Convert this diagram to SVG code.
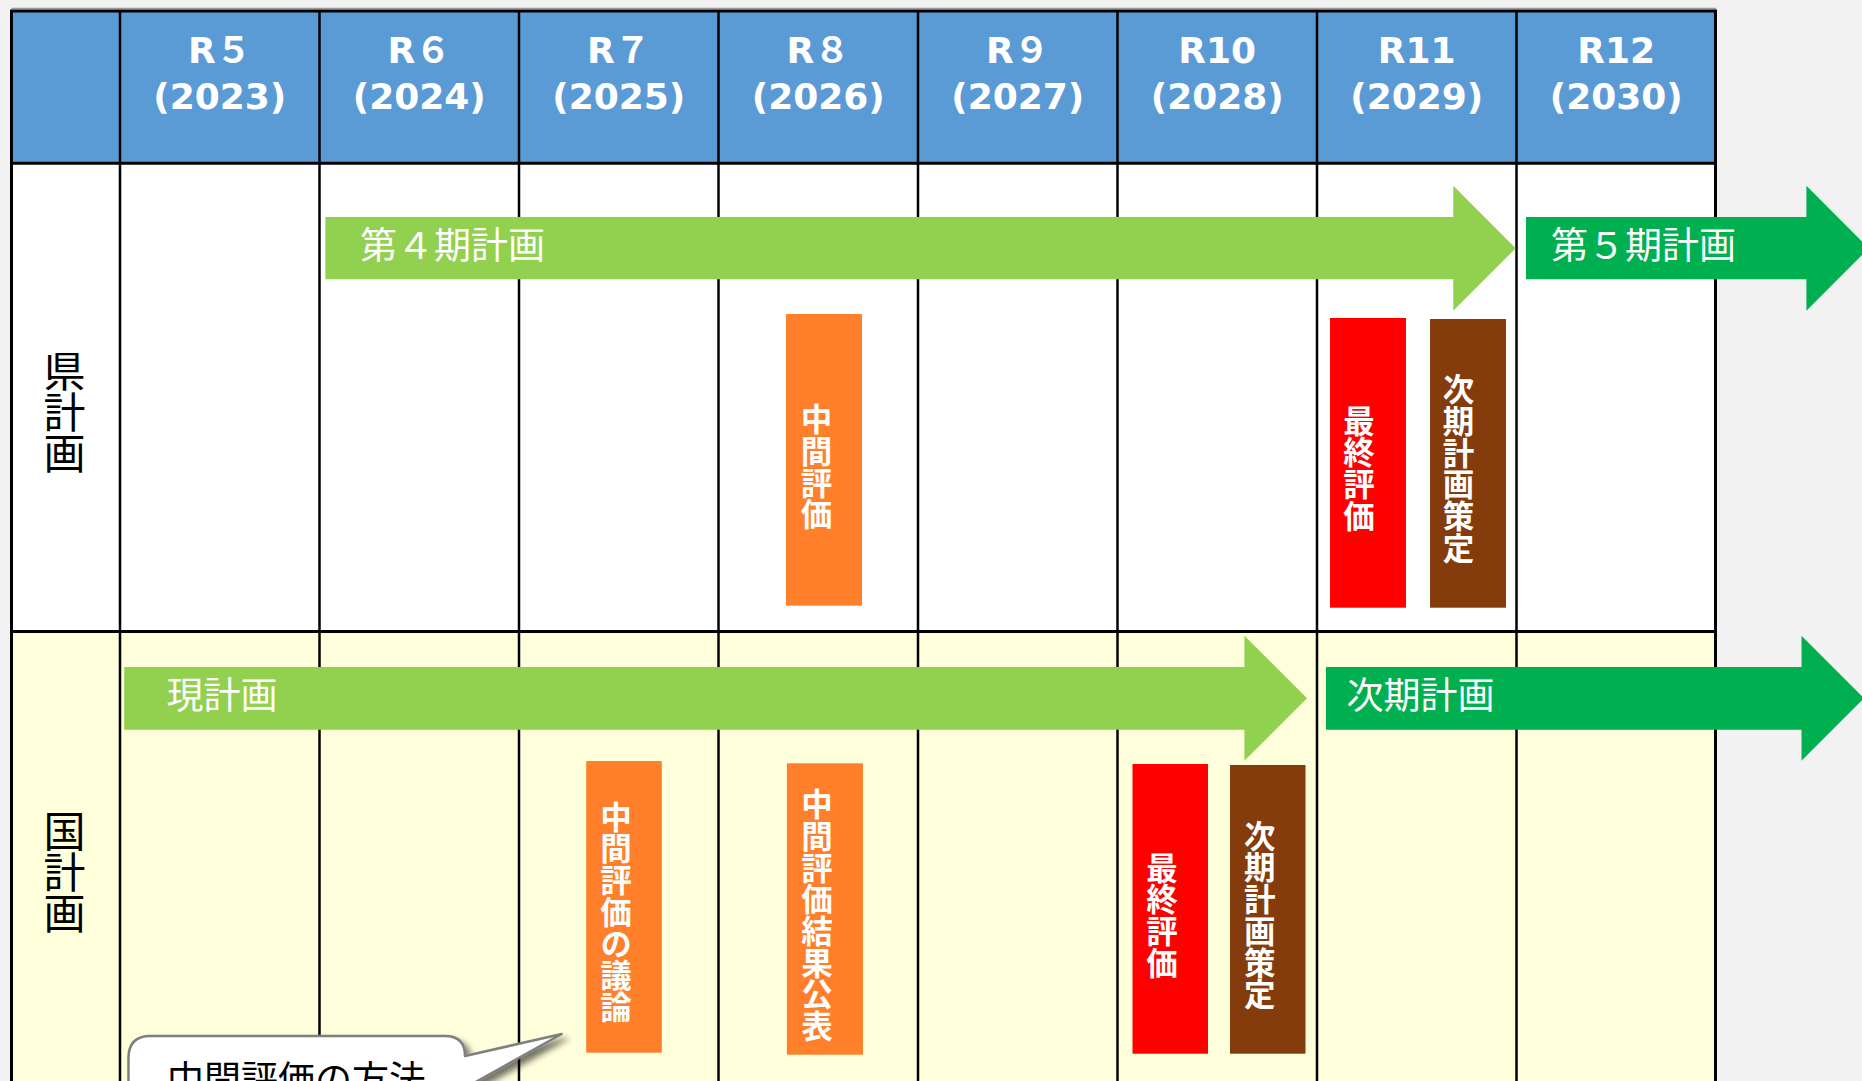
<svg xmlns="http://www.w3.org/2000/svg" width="1862" height="1081" viewBox="0 0 1862 1081">
<style>
.hdr{font-family:"DejaVu Sans","Noto Sans CJK JP",sans-serif;font-weight:bold;font-size:36px;fill:#fff;text-anchor:middle}
.lbl{font-family:"Noto Sans CJK JP",sans-serif;font-size:42px;fill:#000;writing-mode:vertical-rl;text-orientation:upright;letter-spacing:-1px}
.bar{font-family:"Noto Sans CJK JP",sans-serif;font-size:37px;fill:#fff}
.vt{font-family:"Noto Sans CJK JP",sans-serif;font-weight:bold;font-size:31.5px;fill:#fff;writing-mode:vertical-rl;text-orientation:upright;letter-spacing:0.2px}
.grid{stroke:#000;fill:none}
.lg{fill:#92D050}
.dg{fill:#00B050}
.or{fill:#FF7F2A}
.rd{fill:#FF0000}
.br{fill:#843C0C}
.callout{fill:#fff;stroke:#7f7f7f;stroke-width:2.5;stroke-linejoin:round}
.ctext{font-family:"Noto Sans CJK JP",sans-serif;font-size:37px;fill:#000}
</style>
<defs>
<filter id="shadow" x="-10%" y="-30%" width="130%" height="180%">
<feGaussianBlur in="SourceAlpha" stdDeviation="3"/>
<feOffset dx="5" dy="5" result="b"/>
<feComponentTransfer><feFuncA type="linear" slope="0.55"/></feComponentTransfer>
<feMerge><feMergeNode/><feMergeNode in="SourceGraphic"/></feMerge>
</filter>
</defs>
<rect x="0" y="0" width="1862" height="1081" fill="#F2F2F2"/>
<g id="table">
<rect x="11.5" y="10.5" width="1704" height="152.5" fill="#5B9BD5"/>
<rect x="11.5" y="163" width="1704" height="468.5" fill="#FFFFFF"/>
<rect x="11.5" y="631.5" width="1704" height="460" fill="#FFFFDC"/>
<line x1="11.5" y1="8.5" x2="1716" y2="8.5" stroke="#9a9a9a" stroke-width="1.5"/>
<g class="grid" stroke-width="2.5">
<line x1="120" y1="10" x2="120" y2="1081"/>
<line x1="319.5" y1="10" x2="319.5" y2="1081"/>
<line x1="519" y1="10" x2="519" y2="1081"/>
<line x1="718.5" y1="10" x2="718.5" y2="1081"/>
<line x1="918" y1="10" x2="918" y2="1081"/>
<line x1="1117.5" y1="10" x2="1117.5" y2="1081"/>
<line x1="1317" y1="10" x2="1317" y2="1081"/>
<line x1="1516.5" y1="10" x2="1516.5" y2="1081"/>
<line x1="11.5" y1="631.5" x2="1716" y2="631.5" stroke-width="3"/>
<line x1="11.5" y1="163.3" x2="1716" y2="163.3" stroke-width="3"/>
<rect x="11.5" y="11" width="1704" height="1100" stroke-width="3"/>
</g>
</g>
<g id="headers">
<text class="hdr" x="219.75" y="63.3">R５</text><text class="hdr" x="219.75" y="109.3">(2023)</text>
<text class="hdr" x="419.25" y="63.3">R６</text><text class="hdr" x="419.25" y="109.3">(2024)</text>
<text class="hdr" x="618.75" y="63.3">R７</text><text class="hdr" x="618.75" y="109.3">(2025)</text>
<text class="hdr" x="818.25" y="63.3">R８</text><text class="hdr" x="818.25" y="109.3">(2026)</text>
<text class="hdr" x="1017.75" y="63.3">R９</text><text class="hdr" x="1017.75" y="109.3">(2027)</text>
<text class="hdr" x="1217.25" y="63.3">R10</text><text class="hdr" x="1217.25" y="109.3">(2028)</text>
<text class="hdr" x="1416.75" y="63.3">R11</text><text class="hdr" x="1416.75" y="109.3">(2029)</text>
<text class="hdr" x="1616.25" y="63.3">R12</text><text class="hdr" x="1616.25" y="109.3">(2030)</text>
</g>
<g id="row-pref">
<text class="lbl" x="64.5" y="350.5">県計画</text>
</g>
<g id="row-nation">
<text class="lbl" x="64.5" y="810.5">国計画</text>
</g>
<g id="plan4">
<polygon class="lg" points="325.4,217 1453.3,217 1453.3,185.7 1515.7,248.3 1453.3,310.7 1453.3,279.3 325.4,279.3"/>
<text class="bar" x="360" y="259">第４期計画</text>
</g>
<g id="plan5">
<polygon class="dg" points="1526,217 1806.4,217 1806.4,185.7 1868.8,248.3 1806.4,310.7 1806.4,279.3 1526,279.3"/>
<text class="bar" x="1551" y="259">第５期計画</text>
</g>
<g id="pref-mid">
<rect class="or" x="786" y="314" width="76" height="291.7"/>
<text class="vt" x="816.6" y="403.5">中間評価</text>
</g>
<g id="pref-final">
<rect class="rd" x="1330" y="318" width="76" height="289.7"/>
<text class="vt" x="1359" y="405">最終評価</text>
</g>
<g id="pref-next">
<rect class="br" x="1430" y="319" width="76" height="288.7"/>
<text class="vt" x="1458.6" y="373.5">次期計画策定</text>
</g>
<g id="current-plan">
<polygon class="lg" points="124.2,667 1244.4,667 1244.4,635.7 1307,698.3 1244.4,760.7 1244.4,729.7 124.2,729.7"/>
<text class="bar" x="166.5" y="709">現計画</text>
</g>
<g id="next-plan">
<polygon class="dg" points="1326,667 1801.5,667 1801.5,635.7 1864,698.3 1801.5,760.7 1801.5,729.7 1326,729.7"/>
<text class="bar" x="1346.5" y="709">次期計画</text>
</g>
<g id="nat-discussion">
<rect class="or" x="586.2" y="761" width="75.6" height="291.7"/>
<text class="vt" x="616" y="801">中間評価の議論</text>
</g>
<g id="nat-publish">
<rect class="or" x="786.9" y="763.3" width="76.1" height="291.4"/>
<text class="vt" x="817" y="788.5">中間評価結果公表</text>
</g>
<g id="nat-final">
<rect class="rd" x="1132.5" y="764" width="75.5" height="289.7"/>
<text class="vt" x="1162" y="851.8">最終評価</text>
</g>
<g id="nat-next">
<rect class="br" x="1230" y="765" width="75.5" height="288.7"/>
<text class="vt" x="1259.7" y="820">次期計画策定</text>
</g>
<g id="callout">
<path class="callout" filter="url(#shadow)" d="M128.5,1100 V1058 Q128.5,1036 150.5,1036 H445 Q465,1036 465,1056 L561.7,1034 L465,1088 V1100 Z"/>
<text class="ctext" x="167" y="1093">中間評価の方法</text>
</g>
<g id="connectors"></g>
</svg>
